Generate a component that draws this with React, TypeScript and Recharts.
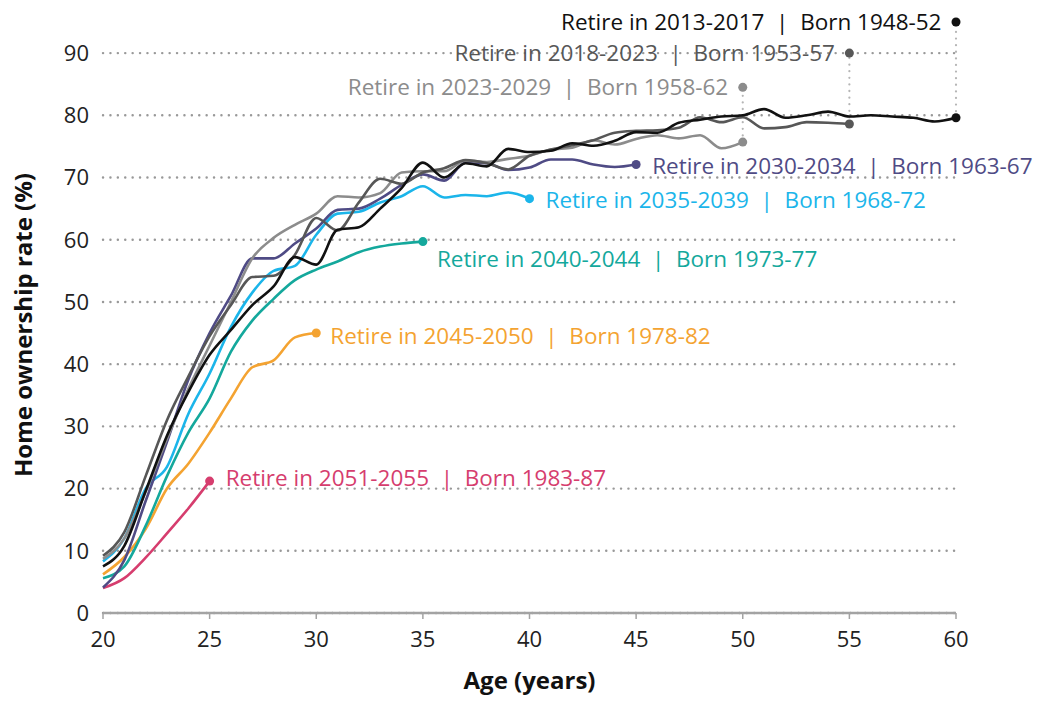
import React from 'react'
import { LineChart, Line, XAxis, YAxis, CartesianGrid, ReferenceLine, ReferenceDot } from 'recharts'

// ages on the x axis
const ages = [20, 21, 22, 23, 24, 25, 26, 27, 28, 29, 30, 31, 32, 33, 34, 35, 36, 37, 38, 39, 40,
  41, 42, 43, 44, 45, 46, 47, 48, 49, 50, 51, 52, 53, 54, 55, 56, 57, 58, 59, 60]

// home ownership rate (%) by cohort, starting at age 20
const born1948 = [7.5, 10.8, 19.6, 28.5, 35.5, 41.5, 45.5, 49.5, 52.5, 57.2, 56, 61.6, 62, 65, 68.3, 72.4,
  70, 72.3, 71.8, 74.6, 74.1, 74.3, 75.5, 75.1, 75.9, 77.3, 77.2, 78.8, 79.3, 79.8, 80, 81, 79.6, 80, 80.6,
  79.8, 80, 79.8, 79.6, 79, 79.6]
const born1953 = [9.2, 13, 22, 31, 38, 44.5, 49.5, 54, 54.2, 57.6, 63.5, 61.5, 66, 69.8, 69, 70.8, 71.5,
  72.8, 72.3, 71.3, 73.5, 74.5, 75.2, 76, 77.2, 77.5, 77.6, 78, 79.7, 78.9, 79.7, 77.9, 78.1, 78.9, 78.8, 78.6]
const born1958 = [8.7, 12, 19.5, 28, 36, 43, 50, 57, 60.3, 62.4, 64.2, 67, 66.8, 67.5, 70.8, 71, 71, 72.7,
  72.5, 73, 73.5, 74.5, 74.8, 76, 75.3, 76.2, 76.8, 76.3, 76.8, 74.7, 75.7]
const born1963 = [4.1, 8.5, 18, 27.5, 37.5, 45, 51, 57, 57, 59.4, 61.8, 64.8, 65, 66.6, 68.8, 70.5, 69.5,
  72.4, 72.3, 71.2, 71.6, 72.9, 72.9, 72.1, 71.7, 72.1]
const born1968 = [8.3, 12, 20, 23.5, 32, 38.5, 46, 51.5, 55, 55.8, 60.8, 64.2, 64.5, 66, 67, 68.6, 66.8,
  67.2, 67, 67.6, 66.6]
const born1973 = [5.6, 7.5, 14, 22, 29, 34.5, 42, 47, 50.5, 53.5, 55.2, 56.5, 58, 58.9, 59.4, 59.7]
const born1978 = [6.2, 9, 13.5, 20, 24, 29, 34.5, 39.5, 40.6, 44.3, 45]
const born1983 = [4, 5.6, 8.9, 12.8, 16.8, 21.2]

// where the callout labels of the top three cohorts sit (value on y axis)
const calloutLevels = [95, 90, 84.5]

const yTicks = [0, 10, 20, 30, 40, 50, 60, 70, 80, 90]
const xTicks = [20, 25, 30, 35, 40, 45, 50, 55, 60]

const FONT = '"Open Sans", Lato, sans-serif'

const series = [
  { key: 'b1983', values: born1983, color: '#d63d6e', label: 'Retire in 2051-2055  |  Born 1983-87', dx: 16, dy: -4 },
  { key: 'b1978', values: born1978, color: '#f4a331', label: 'Retire in 2045-2050  |  Born 1978-82', dx: 14, dy: 2 },
  { key: 'b1973', values: born1973, color: '#14a89c', label: 'Retire in 2040-2044  |  Born 1973-77', dx: 14, dy: 17 },
  { key: 'b1968', values: born1968, color: '#1bb5ea', label: 'Retire in 2035-2039  |  Born 1968-72', dx: 16, dy: 1 },
  { key: 'b1963', values: born1963, color: '#4f4b85', label: 'Retire in 2030-2034  |  Born 1963-67', dx: 16, dy: 1 },
  { key: 'b1958', values: born1958, color: '#8c8c8c', label: 'Retire in 2023-2029  |  Born 1958-62', callout: calloutLevels[2] },
  { key: 'b1953', values: born1953, color: '#575757', label: 'Retire in 2018-2023  |  Born 1953-57', callout: calloutLevels[1] },
  { key: 'b1948', values: born1948, color: '#111111', label: 'Retire in 2013-2017  |  Born 1948-52', callout: calloutLevels[0] },
]

const data = ages.map((age, i) => {
  const row: any = { age }
  series.forEach(s => {
    if (i < s.values.length) row[s.key] = s.values[i]
  })
  return row
})

const nb = (t: string) => t.replace(/ /g, '\u00a0')

const LABEL_SIZE = 22.5
const TICK_SIZE = 22
const TITLE_SIZE = 24

export default function App() {
  const renderDot = (s: any) => (p: any) => {
    const k = `${s.key}-${p.index}`
    if (p.index !== s.values.length - 1 || p.cy == null) return <g key={k} />
    return (
      <g key={k}>
        <circle cx={p.cx} cy={p.cy} r={4.5} fill={s.color} />
        {s.callout === undefined && (
          <text
            x={p.cx + s.dx}
            y={p.cy + s.dy}
            fill={s.color}
            fontSize={LABEL_SIZE}
            fontFamily={FONT}
            dominantBaseline="central"
          >
            {nb(s.label)}
          </text>
        )}
      </g>
    )
  }

  const callouts = series.filter(s => s.callout !== undefined)

  const yTitle = () => (
    <text
      x={0}
      y={0}
      transform="translate(22, 325) rotate(-90)"
      textAnchor="middle"
      dominantBaseline="central"
      fill="#111"
      fontSize={TITLE_SIZE}
      fontWeight={700}
      fontFamily={FONT}
    >
      Home ownership rate (%)
    </text>
  )

  // pull the svg over the body margin at top/left so the top callout has room
  return (
    <div style={{ width: 1042, height: 704, marginTop: -8, marginLeft: -8 }}>
      <LineChart width={1042} height={704} data={data} margin={{ top: 22, right: 86, left: 0, bottom: 10 }}>
        <CartesianGrid
          vertical={false}
          horizontalValues={yTicks}
          stroke="#999"
          strokeWidth={2.4}
          strokeDasharray="0.1 7.3"
          strokeLinecap="round"
        />
        <XAxis
          dataKey="age"
          type="number"
          domain={[20, 60]}
          ticks={xTicks}
          stroke="#a3a3a3"
          axisLine={{ stroke: '#a3a3a3', strokeWidth: 2.5 }}
          tickLine={{ stroke: '#a3a3a3', strokeWidth: 1.5 }}
          tickSize={6}
          tickMargin={12}
          tick={{ fill: '#222', fontSize: TICK_SIZE, fontFamily: FONT }}
          height={81}
          label={{ value: 'Age (years)', position: 'insideBottom', offset: 5, fill: '#111', fontSize: TITLE_SIZE, fontWeight: 700, fontFamily: FONT }}
        />
        <YAxis
          type="number"
          domain={[0, 95]}
          ticks={yTicks}
          axisLine={false}
          tickLine={false}
          tickSize={0}
          tickMargin={14}
          width={103}
          tick={{ fill: '#222', fontSize: TICK_SIZE, fontFamily: FONT }}
          label={{ content: yTitle }}
        />
        {callouts.map(s => {
          const endAge = ages[s.values.length - 1]
          const endVal = s.values[s.values.length - 1]
          return (
            <ReferenceLine
              key={`seg-${s.key}`}
              segment={[{ x: endAge, y: endVal }, { x: endAge, y: s.callout }]}
              stroke="#b5b5b5"
              strokeWidth={2.2}
              strokeDasharray="0.1 6.5"
              strokeLinecap="round"
              ifOverflow="visible"
            />
          )
        })}
        {series.map(s => (
          <Line
            key={s.key}
            type="monotone"
            dataKey={s.key}
            stroke={s.color}
            strokeWidth={2.6}
            dot={renderDot(s)}
            activeDot={false}
            connectNulls={false}
            isAnimationActive={false}
          />
        ))}
        {callouts.map(s => (
          <ReferenceDot
            key={`cd-${s.key}`}
            x={ages[s.values.length - 1]}
            y={s.callout}
            r={4.5}
            fill={s.color}
            stroke="none"
            ifOverflow="visible"
            label={{ value: nb(s.label), position: 'left', offset: 10, fill: s.color, fontSize: LABEL_SIZE, fontFamily: FONT }}
          />
        ))}
      </LineChart>
    </div>
  )
}
